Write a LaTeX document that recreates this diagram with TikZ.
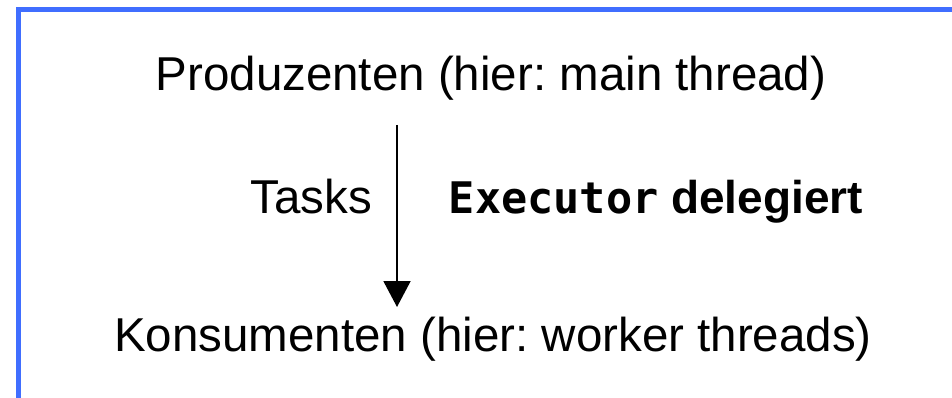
\documentclass[tikz,border=0pt]{standalone}
\usepackage{fontspec}
\setmainfont{Liberation Sans}
\newfontfamily\codefont{DejaVu Sans Mono}
\usetikzlibrary{arrows.meta}
\definecolor{framblue}{RGB}{64,110,255}
\frenchspacing
\begin{document}
\begin{tikzpicture}[x=1pt,y=-1pt,
  lbl/.style={inner sep=0pt, anchor=base, font=\fontsize{47.5}{57}\selectfont},
  lblb/.style={inner sep=0pt, anchor=base, font=\fontsize{46}{55}\selectfont\bfseries},
  flow/.style={line width=2pt, -{Triangle[length=26pt,width=27pt]}},
  frame/.style={draw=framblue, line width=5pt}]
\useasboundingbox (0,0) rectangle (952,398);
\draw[frame] (18,405) -- (18,10) -- (960,10);
\node[lbl] (prod) at (491,91) {Produzenten (hier: main thread)};
\node[lbl] (kons) at (493,351) {Konsumenten (hier: worker threads)};
\node[lbl] (tasks) at (311,213) {Tasks};
\node[lblb] (exec) at (656,213) {{\codefont\fontsize{43.5}{52}\selectfont\bfseries Executor} delegiert};
\coordinate (astart) at (397,125);
\coordinate (aend) at (397,307);
\draw[flow] (astart) -- (aend);
\end{tikzpicture}
\end{document}
